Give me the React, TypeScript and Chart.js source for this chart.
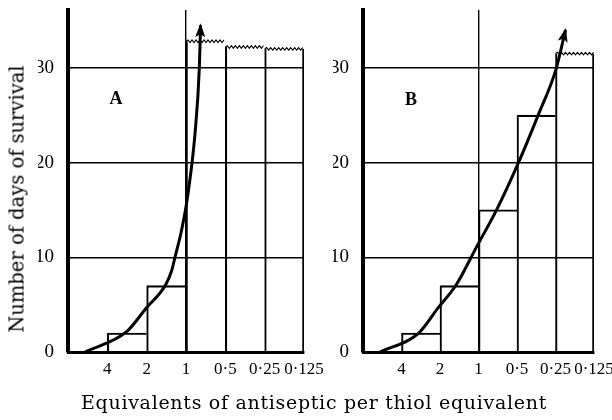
import React, { useEffect, useRef } from "react";
import { Chart, registerables } from "chart.js";
Chart.register(...registerables);

// ---- data ----
const xTickLabels = ["4", "2", "1", "0·5", "0·25", "0·125"];
const xTickValues = [1, 2, 3, 4, 5, 6];
const yTickValues = [0, 10, 20, 30];

// Panel A
const barCentersA = [1.5, 2.5];
const barValuesA = [2, 7];
const offScaleCentersA = [3.5, 4.5, 5.5];
const offScaleValuesA = [32.8, 32.2, 32.0];
const curveXA = [0.43, 1.49, 1.98, 2.49, 2.64, 2.72, 2.89, 3.04, 3.23, 3.34, 3.37];
const curveYA = [0, 2.14, 4.6, 7.15, 8.66, 10, 12.9, 16.4, 23.1, 30.1, 34.5];

// Panel B
const barCentersB = [1.5, 2.5, 3.5, 4.5];
const barValuesB = [2, 7, 15, 25];
const offScaleCentersB = [5.5];
const offScaleValuesB = [31.5];
const curveXB = [0.44, 1.44, 1.94, 2.43, 2.95, 3.47, 4.03, 4.55, 5.01, 5.26];
const curveYB = [0, 1.97, 4.6, 7.15, 11.1, 15.0, 19.9, 25.0, 29.8, 34.0];

const FONT = "'Liberation Serif', 'DejaVu Serif', serif";
const TITLE_FONT = "'DejaVu Serif', serif";
const BW = 1.4;

const wavyPlugin = {
  id: "wavyTop",
  afterDatasetsDraw(chart: any) {
    const meta = chart.getDatasetMeta(1);
    const ctx = chart.ctx;
    ctx.save();
    ctx.strokeStyle = "#000";
    ctx.lineWidth = 1.1;
    meta.data.forEach((el: any) => {
      const { x, y, width } = el.getProps(["x", "y", "width"], true);
      const x0 = x - width / 2;
      const x1 = x + width / 2;
      ctx.beginPath();
      let up = true;
      ctx.moveTo(x0, y);
      for (let px = x0 + 2; px <= x1; px += 2) {
        ctx.lineTo(px, y + (up ? -1.3 : 1.3));
        up = !up;
      }
      ctx.stroke();
    });
    ctx.restore();
  },
};

const arrowPlugin = {
  id: "arrowHead",
  afterDatasetsDraw(chart: any) {
    const meta = chart.getDatasetMeta(2);
    const pts = meta.data;
    if (pts.length < 2) return;
    const a = pts[pts.length - 2];
    const b = pts[pts.length - 1];
    const ang = Math.atan2(b.y - a.y, b.x - a.x);
    const len = 12;
    const hw = 5;
    const ctx = chart.ctx;
    ctx.save();
    ctx.fillStyle = "#000";
    ctx.translate(b.x, b.y);
    ctx.rotate(ang);
    ctx.beginPath();
    ctx.moveTo(2, 0);
    ctx.lineTo(-len, -hw);
    ctx.lineTo(-len + 3, 0);
    ctx.lineTo(-len, hw);
    ctx.closePath();
    ctx.fill();
    ctx.restore();
  },
};

type PanelSpec = {
  left: number;
  right: number;
  top: number;
  bottom: number;
  barX: number[];
  barY: number[];
  tallX: number[];
  tallY: number[];
  curveX: number[];
  curveY: number[];
};

const W = 612;
const H = 420;
const Y_W = 30;
const X_H = 40;

function makeConfig(p: PanelSpec): any {
  return {
    data: {
      datasets: [
        {
          type: "bar",
          data: p.barX.map((x, i) => ({ x, y: p.barY[i] })),
          backgroundColor: "transparent",
          borderColor: "#000",
          borderWidth: { top: BW, bottom: 0, left: BW, right: 0 },
          grouped: false,
          categoryPercentage: 1,
          barPercentage: 1,
          order: 2,
        },
        {
          type: "bar",
          data: p.tallX.map((x, i) => ({ x, y: p.tallY[i] })),
          backgroundColor: "transparent",
          borderColor: "#000",
          borderWidth: (c: any) => ({
            top: 0,
            bottom: 0,
            left: BW,
            right: c.dataIndex === p.tallX.length - 1 ? BW : 0,
          }),
          grouped: false,
          categoryPercentage: 1,
          barPercentage: 1,
          order: 2,
        },
        {
          type: "line",
          data: p.curveX.map((x, i) => ({ x, y: p.curveY[i] })),
          borderColor: "#000",
          borderWidth: 3,
          pointRadius: 0,
          cubicInterpolationMode: "monotone",
          fill: false,
          order: 0,
        },
      ],
    },
    options: {
      responsive: false,
      animation: false,
      events: [],
      layout: {
        padding: {
          left: p.left - Y_W,
          right: W - p.right,
          top: p.top,
          bottom: H - p.bottom - X_H,
        },
      },
      plugins: { legend: { display: false }, tooltip: { enabled: false } },
      scales: {
        x: {
          type: "linear",
          min: 0,
          max: 6,
          offset: false,
          afterBuildTicks: (s: any) => {
            s.ticks = xTickValues.map((v) => ({ value: v }));
          },
          afterFit: (s: any) => {
            s.height = X_H;
            s.paddingLeft = 0;
            s.paddingRight = 0;
          },
          grid: {
            offset: false,
            drawTicks: false,
            color: (c: any) => (c.tick && c.tick.value === 3 ? "#000" : "rgba(0,0,0,0)"),
            lineWidth: BW,
          },
          border: { display: true, color: "#000", width: 3 },
          ticks: {
            color: "#000",
            padding: 7,
            maxRotation: 0,
            autoSkip: false,
            font: { family: FONT, size: 17 },
            callback: (_v: any, i: number) => xTickLabels[i],
          },
        },
        y: {
          type: "linear",
          min: 0,
          max: 36.1,
          afterBuildTicks: (s: any) => {
            s.ticks = yTickValues.map((v) => ({ value: v }));
          },
          afterFit: (s: any) => {
            s.width = Y_W;
            s.paddingTop = 0;
            s.paddingBottom = 0;
          },
          grid: {
            drawTicks: false,
            color: "#000",
            lineWidth: BW,
          },
          border: { display: true, color: "#000", width: 4 },
          ticks: {
            color: "#000",
            padding: 14,
            font: { family: FONT, size: 19 },
          },
        },
      },
    },
    plugins: [wavyPlugin, arrowPlugin],
  };
}

function Panel({ spec }: { spec: PanelSpec }) {
  const ref = useRef<HTMLCanvasElement | null>(null);
  useEffect(() => {
    if (!ref.current) return;
    const chart = new Chart(ref.current, makeConfig(spec));
    return () => chart.destroy();
  }, [spec]);
  return (
    <canvas
      ref={ref}
      width={W}
      height={H}
      style={{ position: "absolute", left: 0, top: 0, width: W, height: H }}
    />
  );
}

const specA: PanelSpec = {
  left: 68,
  right: 304,
  top: 10,
  bottom: 352,
  barX: barCentersA,
  barY: barValuesA,
  tallX: offScaleCentersA,
  tallY: offScaleValuesA,
  curveX: curveXA,
  curveY: curveYA,
};

const specB: PanelSpec = {
  left: 363,
  right: 594,
  top: 10,
  bottom: 352,
  barX: barCentersB,
  barY: barValuesB,
  tallX: offScaleCentersB,
  tallY: offScaleValuesB,
  curveX: curveXB,
  curveY: curveYB,
};

export default function App() {
  return (
    <div
      style={{
        position: "absolute",
        left: 0,
        top: 0,
        width: W,
        height: H,
        background: "#fff",
        overflow: "hidden",
      }}
    >
      <Panel spec={specA} />
      <Panel spec={specB} />
      <div
        style={{
          position: "absolute",
          left: 17,
          top: 199,
          transform: "translate(-50%, -50%) rotate(-90deg)",
          whiteSpace: "nowrap",
          fontFamily: TITLE_FONT,
          fontSize: 19.5,
          color: "#000",
        }}
      >
        Number of days of survival
      </div>
      <div
        style={{
          position: "absolute",
          left: 314,
          top: 402,
          transform: "translate(-50%, -50%)",
          whiteSpace: "nowrap",
          fontFamily: TITLE_FONT,
          fontSize: 19,
          letterSpacing: 0.7,
          color: "#000",
        }}
      >
        Equivalents of antiseptic per thiol equivalent
      </div>
      <div
        style={{
          position: "absolute",
          left: 116,
          top: 98,
          transform: "translate(-50%, -50%)",
          fontFamily: FONT,
          fontWeight: "bold",
          fontSize: 18,
          color: "#000",
        }}
      >
        A
      </div>
      <div
        style={{
          position: "absolute",
          left: 411,
          top: 99,
          transform: "translate(-50%, -50%)",
          fontFamily: FONT,
          fontWeight: "bold",
          fontSize: 18,
          color: "#000",
        }}
      >
        B
      </div>
    </div>
  );
}
